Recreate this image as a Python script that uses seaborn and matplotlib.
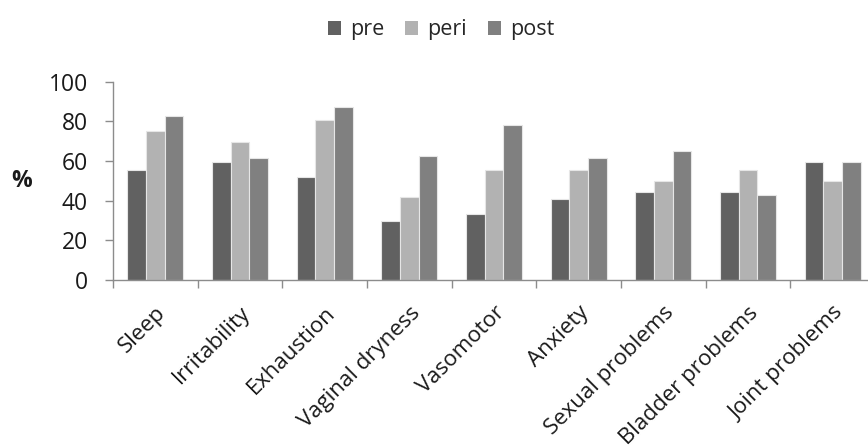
import matplotlib
matplotlib.use("Agg")
import matplotlib.pyplot as plt
import seaborn as sns
import pandas as pd
from matplotlib.patches import Patch

symptoms = ["Sleep", "Irritability", "Exhaustion", "Vaginal dryness", "Vasomotor",
            "Anxiety", "Sexual problems", "Bladder problems", "Joint problems"]
stages = ["pre", "peri", "post"]
pre = [55.6, 59.3, 51.9, 29.6, 33.3, 40.7, 44.4, 44.4, 59.3]
peri = [75.0, 69.4, 80.6, 41.7, 55.6, 55.6, 50.0, 55.6, 50.0]
post = [82.6, 61.5, 87.0, 62.5, 78.0, 61.5, 65.0, 43.0, 59.3]
yticks = [0, 20, 40, 60, 80, 100]

stage_colors = {"pre": "#616161", "peri": "#b2b2b2", "post": "#808080"}

df = pd.DataFrame({
    "symptom": symptoms * 3,
    "stage": [s for s in stages for _ in symptoms],
    "pct": pre + peri + post,
})

sns.set_theme(style="white")
plt.rcParams["font.family"] = ["Open Sans", "DejaVu Sans"]
FS = 16.5
XFS = 16

fig = plt.figure(figsize=(8.68, 4.48), dpi=100)
ax = fig.add_axes([113 / 868, 1 - 280 / 448, 762 / 868, (280 - 81.7) / 448])

sns.barplot(data=df, x="symptom", y="pct", hue="stage", order=symptoms,
            hue_order=stages, palette=stage_colors, width=0.66,
            edgecolor="#e6e6e6", linewidth=0.8, legend=False, ax=ax)

ax.set_xlim(-0.5, len(symptoms) - 0.5)
ax.set_ylim(0, 100)
ax.set_yticks(yticks)
ax.set_yticklabels([str(v) for v in yticks], fontsize=FS, color="#1a1a1a")
ax.tick_params(axis="y", direction="out", length=6, width=1, color="#8c8c8c",
               pad=12, left=True)

# category labels at centers, tick marks at the category boundaries
ax.set_xticks(range(len(symptoms)))
ax.set_xticklabels(symptoms, rotation=45, ha="right", rotation_mode="anchor",
                   fontsize=XFS, color="#1a1a1a")
ax.tick_params(axis="x", which="major", length=0, pad=16)
ax.set_xticks([i - 0.5 for i in range(len(symptoms) + 1)], minor=True)
ax.tick_params(axis="x", which="minor", direction="out", length=6, width=1,
               color="#8c8c8c", bottom=True)

for side in ["top", "right"]:
    ax.spines[side].set_visible(False)
for side in ["left", "bottom"]:
    ax.spines[side].set_color("#8c8c8c")
    ax.spines[side].set_linewidth(1)

ax.set_xlabel("")
ax.set_ylabel("")
fig.text(22 / 868, 1 - 181 / 448, "%", fontsize=FS, fontweight="bold",
         ha="center", va="center", color="#1a1a1a")

handles = [Patch(facecolor=stage_colors[s], edgecolor="none") for s in stages]
fig.legend(handles, stages, loc="center", bbox_to_anchor=(441 / 868, 1 - 30 / 448),
           ncol=3, frameon=False, fontsize=15.5, handlelength=0.6, handleheight=0.6,
           handletextpad=0.4, columnspacing=1.0)

fig.savefig("out.png", dpi=100)
